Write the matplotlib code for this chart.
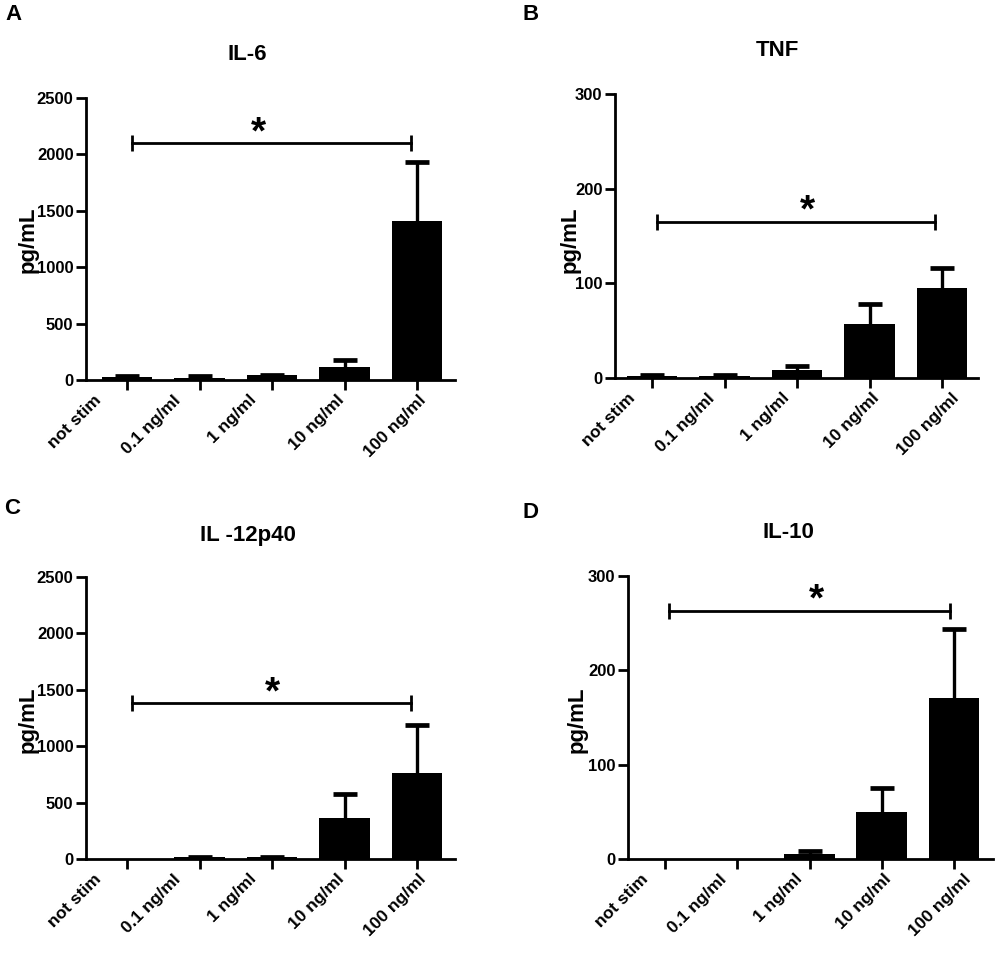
import matplotlib
matplotlib.use("Agg")
import matplotlib.pyplot as plt
from matplotlib.transforms import ScaledTranslation
import numpy as np

plt.rcParams['font.family'] = ['Liberation Sans', 'DejaVu Sans']
plt.rcParams['font.weight'] = 'bold'

categories = ["not stim", "0.1 ng/ml", "1 ng/ml", "10 ng/ml", "100 ng/ml"]

il6_mean = [30, 20, 40, 118, 1414]
il6_sem = [5, 12, 8, 60, 515]
tnf_mean = [2, 2, 8.5, 57, 95]
tnf_sem = [1.5, 1.5, 4.5, 21, 21]
il12_mean = [0, 15, 15, 361, 758]
il12_sem = [0, 5, 5, 216, 429]
il10_mean = [0, 0, 5.5, 49.5, 171]
il10_sem = [0, 0, 2.5, 25.5, 72.5]

titles = ["IL-6", "TNF", "IL -12p40", "IL-10"]
letters = ["A", "B", "C", "D"]
ymaxes = [2500, 300, 2500, 300]
yticks = [[0, 500, 1000, 1500, 2000, 2500], [0, 100, 200, 300],
          [0, 500, 1000, 1500, 2000, 2500], [0, 100, 200, 300]]
sig_y = [2100, 165, 1382, 263]
sig_x = [(0.07, 3.92), (0.07, 3.90), (0.07, 3.92), (0.055, 3.94)]
star_x = [1.81, 2.14, 2.01, 2.10]

means = [il6_mean, tnf_mean, il12_mean, il10_mean]
sems = [il6_sem, tnf_sem, il12_sem, il10_sem]

W, H = 1000, 958
fig = plt.figure(figsize=(W / 100, H / 100), dpi=100)

boxes = [(86, 455, 98, 380, 127, 72.5),
         (615, 978, 94, 378, 652, 72.5),
         (86, 455, 577, 859, 127, 72.5),
         (628, 993, 576, 859, 665, 72.25)]
title_pos = [(247, 55), (777, 50), (248, 535), (788, 533)]
letter_pos = [(13, 15), (531, 15), (12, 509), (531, 512)]
ylabel_pos = [(28, 240), (570, 240), (28, 720), (577, 720)]
label_shift = [[-33, -27, -23, -8, 1], [-24, -18, -15, 2, 9]]

x = np.arange(len(categories))
for i in range(4):
    l, r, t, b, t0, sp = boxes[i]
    ax = fig.add_axes([l / W, 1 - b / H, (r - l) / W, (b - t) / H])
    xl = (l - t0) / sp
    xr = (r - t0) / sp
    m = np.array(means[i], dtype=float)
    s = np.array(sems[i], dtype=float)
    ax.bar(x, m, width=0.70, color='black', zorder=2)
    k = s > 0
    ax.vlines(x[k], m[k], m[k] + s[k], color='black', lw=2.4, zorder=1)
    ax.plot(x[k], (m + s)[k], ls='none', marker='_', markersize=16.6,
            mew=3.4, color='black', zorder=1, clip_on=False)
    ax.set_xlim(xl, xr)
    ax.set_ylim(0, ymaxes[i])
    ax.set_yticks(yticks[i])
    ax.set_xticks(x)
    ax.tick_params(axis='both', width=2, length=7, direction='out', pad=2)
    ax.set_xticklabels(categories, rotation=45, ha='right', va='top',
                       rotation_mode='anchor', fontsize=12.5, fontweight='bold')
    for j, lab in enumerate(ax.get_xticklabels()):
        lab.set_transform(lab.get_transform() +
                          ScaledTranslation(label_shift[i % 2][j] / 100, 0,
                                            fig.dpi_scale_trans))
    for lab in ax.get_yticklabels():
        lab.set_fontsize(12)
        lab.set_fontweight('bold')
    ax.spines['top'].set_visible(False)
    ax.spines['right'].set_visible(False)
    ax.spines['left'].set_linewidth(2)
    ax.spines['bottom'].set_linewidth(2)
    ax.patch.set_alpha(0)

    y0 = sig_y[i]
    x0, x1 = sig_x[i]
    d = ymaxes[i] * 8 / (b - t)
    ax.plot([x0, x1], [y0, y0], color='black', lw=2, clip_on=False)
    ax.vlines([x0, x1], y0 - d, y0 + d, color='black', lw=2, clip_on=False)
    ax.text(star_x[i], y0, '*', ha='center', va='baseline', fontsize=28,
            fontweight='bold')

    fig.text(title_pos[i][0] / W, 1 - title_pos[i][1] / H, titles[i],
             ha='center', va='center', fontsize=16, fontweight='bold')
    fig.text(letter_pos[i][0] / W, 1 - letter_pos[i][1] / H, letters[i],
             ha='center', va='center', fontsize=16, fontweight='bold')
    fig.text(ylabel_pos[i][0] / W, 1 - ylabel_pos[i][1] / H, "pg/mL",
             ha='center', va='center', rotation=90, fontsize=16, fontweight='bold')

fig.savefig("out.png", dpi=100, facecolor='white')
